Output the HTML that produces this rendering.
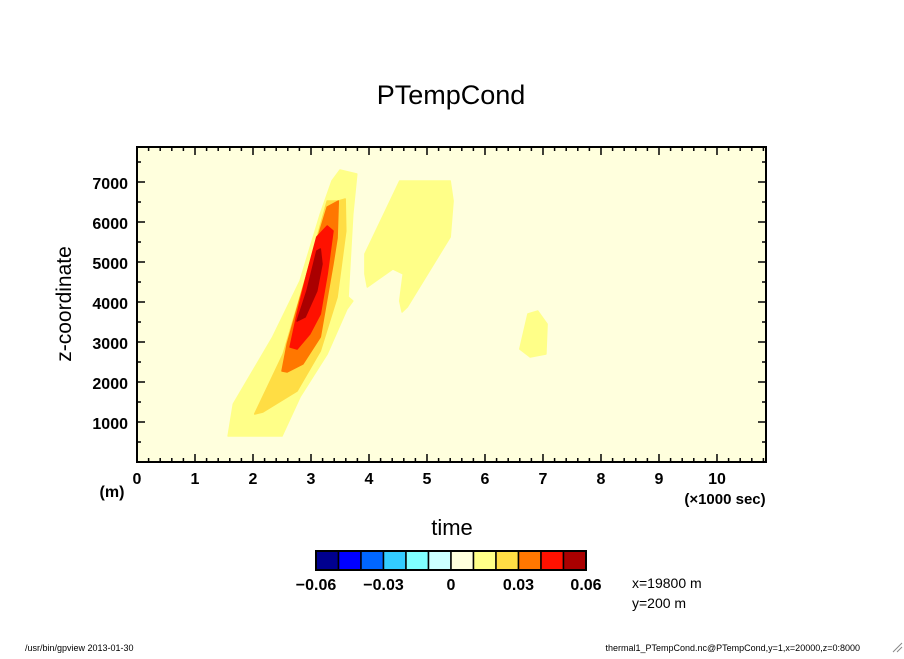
<!DOCTYPE html>
<html><head><meta charset="utf-8"><style>
body{margin:0;background:#fff;}
svg text{font-family:"Liberation Sans",sans-serif;}
</style></head><body>
<svg id="c" width="904" height="654" viewBox="0 0 904 654" xmlns="http://www.w3.org/2000/svg">
<rect width="904" height="654" fill="#fff"/>
<text x="451" y="104" font-size="27" text-anchor="middle">PTempCond</text>
<rect x="137" y="147" width="629" height="315" fill="#ffffdd"/>
<g id="contours"></g>
<g id="axes"></g>
<rect x="137" y="147" width="629" height="315" fill="none" stroke="#000" stroke-width="2"/>
<text x="71" y="304" font-size="21" text-anchor="middle" transform="rotate(-90 71 304)">z-coordinate</text>
<text x="112" y="497" font-size="16" font-weight="bold" text-anchor="middle">(m)</text>
<text x="725" y="504" font-size="15" font-weight="bold" text-anchor="middle">(×1000 sec)</text>
<text x="452" y="535" font-size="22" text-anchor="middle">time</text>
<g id="cbar"></g>
<text x="632" y="588" font-size="14">x=19800 m</text>
<text x="632" y="608" font-size="14">y=200 m</text>
<text x="25" y="651" font-size="9">/usr/bin/gpview  2013-01-30</text>
<text x="860" y="651" font-size="9" text-anchor="end">thermal1_PTempCond.nc@PTempCond,y=1,x=20000,z=0:8000</text>
<path d="M893 652 L902 643 M897 652 L902 647" stroke="#888" stroke-width="1"/>
</svg>
<script>
const xTicks=[0,1,2,3,4,5,6,7,8,9,10];
const yTicks=[1000,2000,3000,4000,5000,6000,7000];
const levelColors=["#00008f","#0000ff","#0066ff","#33ccff","#80ffff","#ccffff","#ffffdd","#ffff88","#ffdd44","#ff7700","#ff1100","#aa0000"];
const cbarLabels=["-0.06","-0.03","0","0.03","0.06"];
const cbarLabelIdx=[0,3,6,9,12];
// contour polygons: [time(1000s), z(m)]
const contourLevel=[7,7,7,8,9,10,11];
const band1=[[1.57,650],[1.66,1450],[2.34,3125],[2.81,4525],[3.16,6200],[3.36,7025],[3.5,7300],[3.79,7200],[3.72,6200],[3.64,4125],[3.72,4025],[3.62,3825],[3.28,2700],[2.81,1625],[2.5,650]];
const blob2=[[3.93,5200],[4.53,7025],[5.4,7025],[5.45,6525],[5.4,5625],[4.66,3875],[4.57,3750],[4.53,4025],[4.59,4700],[4.41,4825],[3.97,4375],[3.93,4700]];
const blob3=[[6.64,3075],[6.74,3700],[6.91,3775],[7.07,3450],[7.05,2700],[6.78,2625],[6.6,2825]];
const band2=[[2.03,1200],[2.52,2700],[2.93,4700],[3.28,6525],[3.47,6525],[3.59,6575],[3.6,5775],[3.45,4125],[3.16,2775],[2.76,1775],[2.17,1250]];
const band3=[[2.5,2275],[2.59,2950],[2.98,4950],[3.28,6375],[3.47,6525],[3.45,5600],[3.38,4950],[3.16,3125],[2.86,2450],[2.59,2250]];
const band4=[[2.64,2875],[2.76,3700],[2.93,4700],[3.1,5625],[3.28,5900],[3.38,5775],[3.28,4700],[3.16,3700],[2.98,3200],[2.76,2825]];
const band5=[[2.76,3525],[2.93,4275],[3.1,5275],[3.16,5325],[3.19,4950],[3.1,4275],[2.9,3625]];
const polys=[band1,blob2,blob3,band2,band3,band4,band5];
const polyNames=['contour-0.01-main','contour-0.01-blob2','contour-0.01-blob3','contour-0.02','contour-0.03','contour-0.04','contour-0.05'];

const NS="http://www.w3.org/2000/svg";
const X0=137,X1=766,Y0=462,Y1=147,xmax=10.845,ymax=7875;
const sx=t=>X0+t/xmax*(X1-X0);
const sy=z=>Y0-z/ymax*(Y0-Y1);
function mk(tag,a,p){const e=document.createElementNS(NS,tag);for(const k in a)e.setAttribute(k,a[k]);p.appendChild(e);return e;}
const cg=document.getElementById('contours');
polys.forEach((pts,i)=>{
  const e=mk('polygon',{points:pts.map(p=>sx(p[0]).toFixed(1)+','+sy(p[1]).toFixed(1)).join(' '),fill:levelColors[contourLevel[i]],stroke:levelColors[contourLevel[i]],'stroke-width':1.5,'stroke-linejoin':'round'},cg);
  
  
});
const ag=document.getElementById('axes');
for(let t=0;t<=10.8;t+=0.2){
  const major=Math.abs(t-Math.round(t))<1e-6,L=major?8:4,x=sx(t);
  mk('line',{x1:x,y1:Y0,x2:x,y2:Y0-L,stroke:'#000','stroke-width':1.5},ag);
  mk('line',{x1:x,y1:Y1,x2:x,y2:Y1+L,stroke:'#000','stroke-width':1.5},ag);
}
for(let z=500;z<ymax;z+=500){
  const major=z%1000===0,L=major?8:4,y=sy(z);
  mk('line',{x1:X0,y1:y,x2:X0+L,y2:y,stroke:'#000','stroke-width':1.5},ag);
  mk('line',{x1:X1,y1:y,x2:X1-L,y2:y,stroke:'#000','stroke-width':1.5},ag);
}
xTicks.forEach(t=>{const e=mk('text',{x:sx(t),y:484,'font-size':16,'font-weight':'bold','text-anchor':'middle'},ag);e.textContent=t;
  
  });
yTicks.forEach(z=>{const e=mk('text',{x:128,y:sy(z)+7,'font-size':16,'font-weight':'bold','text-anchor':'end'},ag);e.textContent=z;
  
  });
const cb=document.getElementById('cbar');
const CX=316,CW=270,CY=551,CH=19,bw=CW/levelColors.length;
levelColors.forEach((c,i)=>{const e=mk('rect',{x:CX+i*bw,y:CY,width:bw,height:CH,fill:c,stroke:'#000','stroke-width':1.5},cb);
  
  });
mk('rect',{x:CX,y:CY,width:CW,height:CH,fill:'none',stroke:'#000','stroke-width':2},cb);
cbarLabels.forEach((l,i)=>{const e=mk('text',{x:CX+cbarLabelIdx[i]*bw,y:590,'font-size':16,'font-weight':'bold','text-anchor':'middle'},cb);e.textContent=l.replace('-','\u2212');
  
  });
</script>
</body></html>
